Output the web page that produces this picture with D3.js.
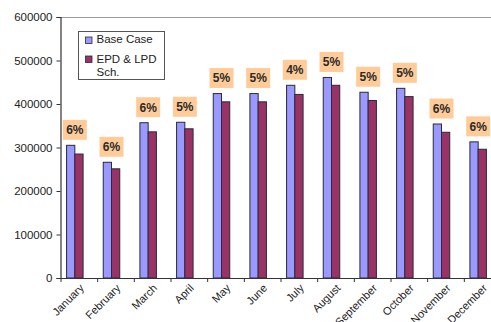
<!DOCTYPE html>
<html>
<head>
<meta charset="utf-8">
<script src="https://cdn.jsdelivr.net/npm/d3@7"></script>
<style>
  html, body { margin: 0; padding: 0; background: #fff; overflow: hidden; }
  svg { display: block; font-family: "Liberation Sans", Arial, sans-serif; }
</style>
</head>
<body>
<svg id="chart" width="491" height="322"></svg>
<script>
// Monthly energy: base case vs. EPD & LPD schedule
const months = ["January", "February", "March", "April", "May", "June",
                "July", "August", "September", "October", "November", "December"];
const baseCase = [305000, 266000, 357000, 358000, 424000, 424000,
                  443000, 461000, 427000, 436000, 354000, 313000];
const epdLpd   = [285000, 251000, 336000, 343000, 405000, 405000,
                  422000, 443000, 408000, 417000, 335000, 296000];
const savingsLabels = ["6%", "6%", "6%", "5%", "5%", "5%",
                       "4%", "5%", "5%", "5%", "6%", "6%"];
const yTicks = [0, 100000, 200000, 300000, 400000, 500000, 600000];
const seriesNames = ["Base Case", "EPD & LPD Sch."];
const seriesColors = ["#9999ff", "#993366"];

const svg = d3.select("#chart");
const plotL = 60.5, plotR = 500.5, plotT = 17, plotB = 278;

const x = d3.scaleBand().domain(months).range([plotL, plotR]).paddingInner(0).paddingOuter(0);
const y = d3.scaleLinear().domain([0, 600000]).range([plotB, plotT]);

const bw = x.bandwidth();
const barW = bw * 0.225;
const groupCenter = m => x(m) + bw / 2 - 4;

// plot frame: grey top edge
svg.append("line")
  .attr("x1", plotL).attr("x2", plotR)
  .attr("y1", plotT + 0.5).attr("y2", plotT + 0.5)
  .attr("stroke", "#9a9a9a").attr("stroke-width", 1.2);

// bars
const groups = svg.append("g").selectAll("g").data(months).join("g");
[baseCase, epdLpd].forEach((vals, s) => {
  groups.append("rect")
    .attr("x", m => groupCenter(m) - barW + s * barW)
    .attr("y", (m, i) => y(vals[i]))
    .attr("width", barW)
    .attr("height", (m, i) => plotB - y(vals[i]))
    .attr("fill", seriesColors[s])
    .attr("stroke", "#2a2a3a")
    .attr("stroke-width", 1);
});

// savings labels above each pair
const lblW = 24, lblH = 20;
const lbl = svg.append("g").selectAll("g").data(months).join("g")
  .attr("transform", (m, i) => `translate(${groupCenter(m)},${y(baseCase[i]) - 5.5 - lblH / 2})`);
lbl.append("rect")
  .attr("x", -lblW / 2).attr("y", -lblH / 2)
  .attr("width", lblW).attr("height", lblH)
  .attr("fill", "#ffcc99");
lbl.append("text")
  .attr("text-anchor", "middle").attr("dy", "0.36em")
  .attr("font-size", 12).attr("font-weight", "bold").attr("fill", "#2a2a2a")
  .text((m, i) => savingsLabels[i]);

// y axis
const yAxis = svg.append("g")
  .attr("transform", `translate(${plotL},0)`)
  .call(d3.axisLeft(y).tickValues(yTicks).tickFormat(d3.format("d")).tickSize(4).tickPadding(4));
yAxis.select(".domain").attr("stroke", "#333").attr("stroke-width", 1.2);
yAxis.selectAll(".tick line").attr("stroke", "#333");
yAxis.selectAll("text").attr("font-size", 11.5).attr("fill", "#222")
  .attr("font-family", "Liberation Sans, Arial, sans-serif");

// x axis
const xAxis = svg.append("g")
  .attr("transform", `translate(0,${plotB})`)
  .call(d3.axisBottom(x).tickSize(0).tickFormat(""));
xAxis.select(".domain").attr("stroke", "#333").attr("stroke-width", 1.2);
svg.append("g").selectAll("line").data(months).join("line")
  .attr("x1", m => x(m) + 0.5).attr("x2", m => x(m) + 0.5)
  .attr("y1", plotB).attr("y2", plotB + 4)
  .attr("stroke", "#333");
svg.append("g").selectAll("text").data(months).join("text")
  .attr("transform", m => `translate(${x(m) + bw / 2 + 3},${plotB + 8}) rotate(-45)`)
  .attr("text-anchor", "end")
  .attr("dy", "0.35em")
  .attr("font-size", 11).attr("fill", "#222")
  .text(m => m);

// legend
const lg = svg.append("g").attr("transform", "translate(78.5,31.5)");
lg.append("rect").attr("width", 86).attr("height", 48)
  .attr("fill", "#fff").attr("stroke", "#555").attr("stroke-width", 1);
const items = [
  { lines: [seriesNames[0]], sy: 5.5, ty: 11.8 },
  { lines: ["EPD & LPD", "Sch."], sy: 24.5, ty: 31 }
];
items.forEach((it, i) => {
  lg.append("rect").attr("x", 7).attr("y", it.sy).attr("width", 6.5).attr("height", 6.5)
    .attr("fill", seriesColors[i]).attr("stroke", "#2a2a3a").attr("stroke-width", 0.8);
  const t = lg.append("text").attr("x", 18).attr("y", it.ty)
    .attr("font-size", 11.5).attr("fill", "#222");
  it.lines.forEach((ln, k) => t.append("tspan").attr("x", 18).attr("dy", k ? 13.5 : 0).text(ln));
});
</script>
</body>
</html>
